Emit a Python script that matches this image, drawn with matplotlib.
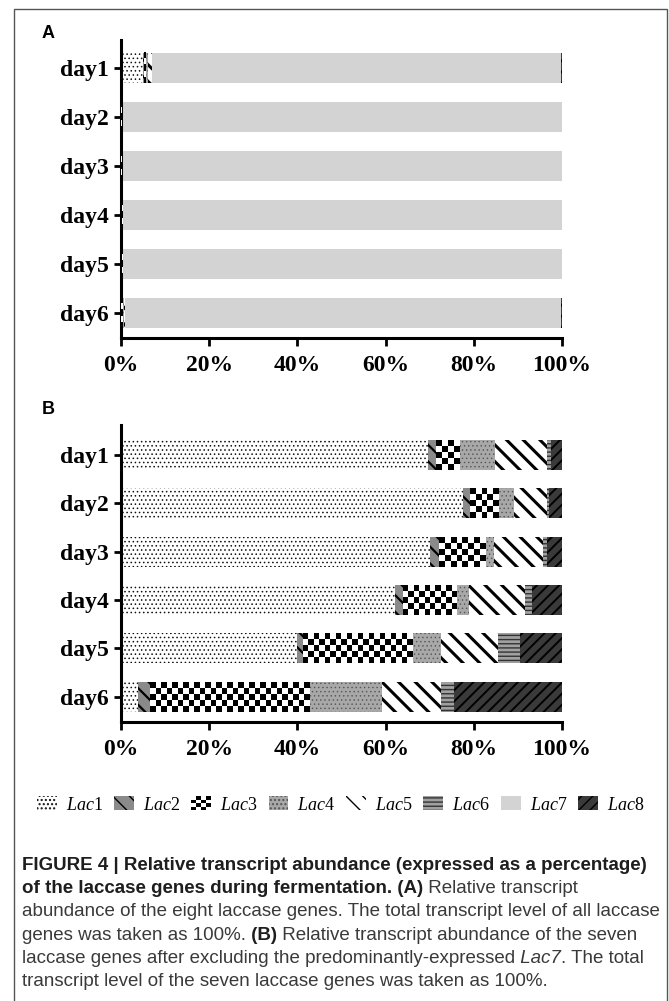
import numpy as np
import matplotlib
matplotlib.use('Agg')
import matplotlib.pyplot as plt
from matplotlib.patches import Patch, Rectangle
from matplotlib.legend_handler import HandlerBase

# ---- data -------------------------------------------------------------
days = ['day1', 'day2', 'day3', 'day4', 'day5', 'day6']
genes = ['Lac1', 'Lac2', 'Lac3', 'Lac4', 'Lac5', 'Lac6', 'Lac7', 'Lac8']

# panel A: % of all eight laccase genes
a_lac1 = [5.0, 0.08, 0.035, 0.19, 0.12, 0.05]
a_lac2 = [0.14, 0.002, 0.001, 0.005, 0.005, 0.03]
a_lac3 = [0.38, 0.006, 0.005, 0.04, 0.075, 0.44]
a_lac4 = [0.57, 0.004, 0.001, 0.01, 0.02, 0.2]
a_lac5 = [0.86, 0.007, 0.006, 0.04, 0.04, 0.16]
a_lac6 = [0.06, 0.001, 0.0005, 0.005, 0.015, 0.03]
a_lac7 = [92.81, 99.897, 99.95, 99.69, 99.695, 98.79]
a_lac8 = [0.18, 0.003, 0.002, 0.02, 0.03, 0.3]

# panel B: % of the seven genes without Lac7
b_lac1 = [69.6, 77.6, 70.0, 62.1, 39.8, 3.9]
b_lac2 = [1.9, 1.6, 2.1, 1.8, 1.5, 2.6]
b_lac3 = [5.3, 6.4, 10.5, 12.2, 24.8, 36.2]
b_lac4 = [7.9, 3.5, 2.0, 2.7, 6.4, 16.4]
b_lac5 = [11.9, 7.5, 11.0, 12.8, 13.0, 13.5]
b_lac6 = [0.9, 0.5, 0.9, 1.7, 4.9, 2.8]
b_lac8 = [2.5, 2.9, 3.5, 6.7, 9.6, 24.6]

xticks = [0, 20, 40, 60, 80, 100]
xticklabels = ['0%', '20%', '40%', '60%', '80%', '100%']

# ---- styles: face, hatch, hatch colour, hatch linewidth ----------------
style = {
    'Lac1': ('white', '....', '#111111', 0.6),
    'Lac2': ('#8a8a8a', '\\\\', 'black', 1.6),
    'Lac3': ('white', None, 'black', 1.0),     # checkerboard drawn as image
    'Lac4': ('#a8a8a8', '....', '#555555', 0.5),
    'Lac5': ('white', '\\\\', 'black', 2.2),
    'Lac6': ('#a0a0a0', '----', '#333333', 1.0),
    'Lac7': ('#d3d3d3', None, '#d3d3d3', 1.0),
    'Lac8': ('#3a3a3a', '///', 'black', 1.4),
}

plt.rcParams['mathtext.fontset'] = 'custom'
plt.rcParams['mathtext.it'] = 'Liberation Serif:italic'
plt.rcParams['mathtext.rm'] = 'Liberation Serif'

W, H = 669, 1001
fig = plt.figure(figsize=(W / 100, H / 100), dpi=100)

tick_font = dict(family='Liberation Serif', weight='bold', size=17)
bar_h = 0.62
cell_px = 5.6


def stacked(ax, series):
    y = np.arange(len(days))
    left = np.zeros(len(days))
    px_per_pct = ax.get_position().width * W / 100
    for name, vals in series:
        vals = np.array(vals, dtype=float)
        face, hatch, hc, hlw = style[name]
        bars = ax.barh(y, vals, left=left, height=bar_h, color=face,
                       edgecolor=hc, linewidth=0, hatch=hatch, zorder=2)
        for p in bars:
            if hasattr(p, 'set_hatch_linewidth'):
                p.set_hatch_linewidth(hlw)
        if name == 'Lac3':
            # checkerboard pattern
            for yi, l, v in zip(y, left, vals):
                nx = max(1, int(round(v * px_per_pct / cell_px)))
                ny = 5
                chk = (np.add.outer(np.arange(ny), np.arange(nx)) % 2).astype(float)
                ax.imshow(chk, cmap='gray', vmin=0, vmax=1, interpolation='nearest',
                          aspect='auto', extent=(l, l + v, yi + bar_h / 2, yi - bar_h / 2),
                          zorder=3)
        left = left + vals


def style_axes(ax, ylim):
    ax.set_xlim(0, 100)
    ax.set_ylim(*ylim)
    ax.set_yticks(np.arange(len(days)))
    ax.set_yticklabels(days, **tick_font)
    ax.set_xticks(xticks)
    ax.set_xticklabels(xticklabels, **tick_font)
    for s in ['top', 'right']:
        ax.spines[s].set_visible(False)
    for s in ['left', 'bottom']:
        ax.spines[s].set_linewidth(2.2)
    ax.tick_params(axis='x', length=6, width=2, pad=6)
    ax.tick_params(axis='y', length=5, width=2, pad=4)


axA = fig.add_axes([121 / W, 1 - 338 / H, 441 / W, 298 / H])
stacked(axA, [('Lac1', a_lac1), ('Lac2', a_lac2), ('Lac3', a_lac3), ('Lac4', a_lac4),
              ('Lac5', a_lac5), ('Lac6', a_lac6), ('Lac7', a_lac7), ('Lac8', a_lac8)])
style_axes(axA, (5.51, -0.57))

axB = fig.add_axes([121 / W, 1 - 722 / H, 441 / W, 297 / H])
stacked(axB, [('Lac1', b_lac1), ('Lac2', b_lac2), ('Lac3', b_lac3), ('Lac4', b_lac4),
              ('Lac5', b_lac5), ('Lac6', b_lac6), ('Lac8', b_lac8)])
style_axes(axB, (5.52, -0.62))

fig.text(42 / W, 1 - 33 / H, 'A', family='Liberation Sans', weight='bold', size=13, va='center')
fig.text(42 / W, 1 - 410 / H, 'B', family='Liberation Sans', weight='bold', size=13, va='center')

# frame round the figure
fig.patches.append(Rectangle((14 / W, -0.02), 653 / W, 1 - 9 / H + 0.02, transform=fig.transFigure,
                             fill=False, edgecolor='#555555', linewidth=1))


# ---- legend -----------------------------------------------------------
class CheckerHandler(HandlerBase):
    def create_artists(self, legend, orig_handle, xdescent, ydescent, width, height, fontsize, trans):
        arts = [Rectangle((-xdescent, -ydescent), width, height, fc='white', ec='none', transform=trans)]
        n = 4
        cw, ch = width / n, height / n
        for i in range(n):
            for j in range(n):
                if (i + j) % 2 == 0:
                    arts.append(Rectangle((-xdescent + i * cw, -ydescent + j * ch), cw, ch,
                                          fc='black', ec='none', transform=trans))
        return arts


handles = []
for g in genes:
    face, hatch, hc, hlw = style[g]
    p = Patch(facecolor=face, edgecolor=hc, hatch=hatch, linewidth=0)
    if hasattr(p, 'set_hatch_linewidth'):
        p.set_hatch_linewidth(min(hlw, 1.2))
    handles.append(p)
labels = [r'$\mathit{Lac}$' + g[3:] for g in genes]
fig.legend(handles, labels, loc='center', bbox_to_anchor=(341 / W, 1 - 805 / H), ncol=8,
           frameon=False, prop=dict(family='Liberation Serif', size=13),
           handlelength=1.1, handleheight=0.8, handletextpad=0.5, columnspacing=0.6,
           handler_map={handles[2]: CheckerHandler()})

# ---- caption ----------------------------------------------------------
renderer = fig.canvas.get_renderer()
cap_size = 13.5
cap_lines = [
    [('FIGURE 4 | Relative transcript abundance (expressed as a percentage)', 'bold', 'normal')],
    [('of the laccase genes during fermentation. (A)', 'bold', 'normal'),
     (' Relative transcript', 'normal', 'normal')],
    [('abundance of the eight laccase genes. The total transcript level of all laccase', 'normal', 'normal')],
    [('genes was taken as 100%.', 'normal', 'normal'), (' (B)', 'bold', 'normal'),
     (' Relative transcript abundance of the seven', 'normal', 'normal')],
    [('laccase genes after excluding the predominantly-expressed', 'normal', 'normal'),
     (' Lac7', 'normal', 'italic'), ('. The total', 'normal', 'normal')],
    [('transcript level of the seven laccase genes was taken as 100%.', 'normal', 'normal')],
]
for i, runs in enumerate(cap_lines):
    x = 22.0
    yb = 870 + 23.2 * i
    for txt, wt, st in runs:
        t = fig.text(x / W, 1 - yb / H, txt, family='Liberation Sans', weight=wt, style=st,
                     size=cap_size, va='baseline', color='#1e1e1e' if wt == 'bold' else '#3a3a3a')
        x = t.get_window_extent(renderer=renderer).x1

fig.savefig('out.png', dpi=100)
